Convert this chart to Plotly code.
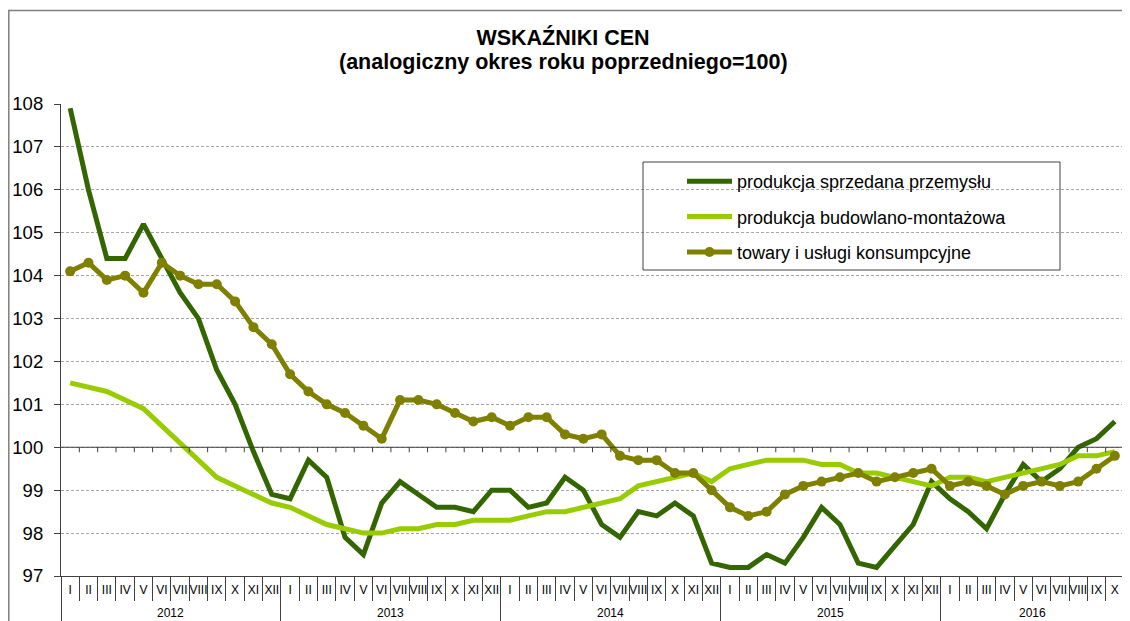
import plotly.graph_objects as go

years = ["2012", "2013", "2014", "2015", "2016"]
months_full = ["I", "II", "III", "IV", "V", "VI", "VII", "VIII", "IX", "X", "XI", "XII"]
months_2016 = ["I", "II", "III", "IV", "V", "VI", "VII", "VIII", "IX", "X"]

x_keys = []
x_month = []
year_counts = []
for y in years:
    ms = months_2016 if y == "2016" else months_full
    year_counts.append(len(ms))
    for m in ms:
        x_keys.append(y + " " + m)
        x_month.append(m)

przemysl = [
    107.9, 106.0, 104.4, 104.4, 105.2, 104.4, 103.6, 103.0, 101.8, 101.0, 99.9, 98.9,
    98.8, 99.7, 99.3, 97.9, 97.5, 98.7, 99.2, 98.9, 98.6, 98.6, 98.5, 99.0,
    99.0, 98.6, 98.7, 99.3, 99.0, 98.2, 97.9, 98.5, 98.4, 98.7, 98.4, 97.3,
    97.2, 97.2, 97.5, 97.3, 97.9, 98.6, 98.2, 97.3, 97.2, 97.7, 98.2, 99.2,
    98.8, 98.5, 98.1, 98.9, 99.6, 99.2, 99.5, 100.0, 100.2, 100.6,
]
budowlano = [
    101.5, 101.4, 101.3, 101.1, 100.9, 100.5, 100.1, 99.7, 99.3, 99.1, 98.9, 98.7,
    98.6, 98.4, 98.2, 98.1, 98.0, 98.0, 98.1, 98.1, 98.2, 98.2, 98.3, 98.3,
    98.3, 98.4, 98.5, 98.5, 98.6, 98.7, 98.8, 99.1, 99.2, 99.3, 99.4, 99.2,
    99.5, 99.6, 99.7, 99.7, 99.7, 99.6, 99.6, 99.4, 99.4, 99.3, 99.2, 99.1,
    99.3, 99.3, 99.2, 99.3, 99.4, 99.5, 99.6, 99.8, 99.8, 99.9,
]
konsumpcyjne = [
    104.1, 104.3, 103.9, 104.0, 103.6, 104.3, 104.0, 103.8, 103.8, 103.4, 102.8, 102.4,
    101.7, 101.3, 101.0, 100.8, 100.5, 100.2, 101.1, 101.1, 101.0, 100.8, 100.6, 100.7,
    100.5, 100.7, 100.7, 100.3, 100.2, 100.3, 99.8, 99.7, 99.7, 99.4, 99.4, 99.0,
    98.6, 98.4, 98.5, 98.9, 99.1, 99.2, 99.3, 99.4, 99.2, 99.3, 99.4, 99.5,
    99.1, 99.2, 99.1, 98.9, 99.1, 99.2, 99.1, 99.2, 99.5, 99.8,
]

names = ["produkcja sprzedana przemysłu", "produkcja budowlano-montażowa", "towary i usługi konsumpcyjne"]
y_ticks = list(range(97, 109))

W, H = 1130, 621
L, R, T, B = 53, 1116, 96, 568   # plot area in figure pixels


def px_x(p):
    return (p - L) / (R - L)


def px_y(p):
    return (B - p) / (B - T)


n = len(x_keys)

# year boundaries and centres (category index units), derived from month counts
bounds = [-0.5]
centres = []
start = 0
for c in year_counts:
    centres.append(start + (c - 1) / 2)
    start += c
    bounds.append(start - 0.5)

fig = go.Figure()
fig.add_trace(go.Scatter(x=x_keys, y=przemysl, name=names[0], mode="lines",
                         line=dict(color="#336600", width=5), legendgroup="a"))
fig.add_trace(go.Scatter(x=x_keys, y=budowlano, name=names[1], mode="lines",
                         line=dict(color="#99CC00", width=5), legendgroup="b"))
fig.add_trace(go.Scatter(x=x_keys, y=konsumpcyjne, name=names[2], mode="lines+markers",
                         line=dict(color="#808000", width=5),
                         marker=dict(color="#808000", size=10, symbol="circle"),
                         legendgroup="c"))
# invisible helper trace for the year-divider axis
fig.add_trace(go.Scatter(x=[bounds[0], bounds[-1]], y=[100, 100], xaxis="x2", mode="lines",
                         line=dict(width=0), showlegend=False, hoverinfo="skip"))

shapes = []
# outer frame
shapes.append(dict(type="rect", xref="paper", yref="paper",
                   x0=px_x(0.8), x1=px_x(1140), y0=px_y(640), y1=px_y(2.5),
                   line=dict(color="#7f7f7f", width=1.5), layer="below"))
# right plot border
shapes.append(dict(type="line", xref="paper", yref="paper", x0=1, x1=1, y0=0, y1=1,
                   line=dict(color="#808080", width=1)))
# 100 line
shapes.append(dict(type="line", xref="paper", yref="y", x0=0, x1=1, y0=100, y1=100,
                   line=dict(color="#404040", width=1.2)))
# small ticks along the 100 line at category boundaries
for i in range(n - 1):
    shapes.append(dict(type="line", xref="x2", yref="y", x0=i + 0.5, x1=i + 0.5,
                       ysizemode="pixel", yanchor=100, y0=0, y1=-5,
                       line=dict(color="#404040", width=1)))
# legend box
shapes.append(dict(type="rect", xref="paper", yref="paper",
                   x0=px_x(635), x1=px_x(1052), y0=px_y(262), y1=px_y(154),
                   line=dict(color="#404040", width=1)))

annotations = [
    dict(text="<b>(analogiczny okres roku poprzedniego=100)</b>", xref="paper", yref="paper",
         x=px_x(555), y=px_y(54), xanchor="center", yanchor="middle", showarrow=False,
         font=dict(size=21.5, color="black")),
]
for yr, cx in zip(years, centres):
    annotations.append(dict(text=yr, xref="x2", yref="paper", x=cx, y=0,
                            xanchor="center", yanchor="middle", yshift=-37,
                            showarrow=False, font=dict(size=12, color="black")))

fig.update_layout(
    width=W, height=H,
    margin=dict(l=L, r=W - R, t=T, b=H - B, autoexpand=False),
    paper_bgcolor="white", plot_bgcolor="white",
    font=dict(family="Liberation Sans, Arial, sans-serif", color="black"),
    title=dict(text="<b>WSKAŹNIKI CEN</b>",
               x=555 / W, xanchor="center", xref="container",
               y=1 - 29 / H, yanchor="middle", yref="container",
               font=dict(size=21.5, color="black"), automargin=False),
    showlegend=True,
    legend=dict(x=px_x(674), y=px_y(155), xanchor="left", yanchor="top",
                bgcolor="rgba(0,0,0,0)", borderwidth=0,
                font=dict(size=18, color="black"), itemwidth=45,
                traceorder="grouped", tracegroupgap=9),
    shapes=shapes,
    annotations=annotations,
    hovermode=False,
    xaxis=dict(type="category", categoryorder="array", categoryarray=x_keys,
               range=[-0.5, n - 0.5], tickmode="array", tickvals=x_keys, ticktext=x_month,
               ticks="outside", tickson="boundaries", ticklen=24,
               tickcolor="#404040", showline=True, linecolor="#404040", linewidth=1.2,
               showgrid=False, tickfont=dict(size=12, color="black"), tickangle=0,
               ticklabelstandoff=2, automargin=False),
    xaxis2=dict(overlaying="x", anchor="y", side="bottom", type="linear",
                range=[-0.5, n - 0.5], tickmode="array", tickvals=bounds,
                ticks="outside", ticklen=52, tickcolor="#404040", tickwidth=1,
                showticklabels=False, showgrid=False, zeroline=False, showline=False,
                automargin=False),
    yaxis=dict(range=[97, 108], tickvals=y_ticks, ticks="outside", ticklen=6,
               tickcolor="#404040", showline=True, linecolor="#404040", linewidth=1.2,
               showgrid=True, gridcolor="#a6a6a6", gridwidth=1, griddash="3px,2px",
               zeroline=False, tickfont=dict(size=18.5, color="black"),
               ticklabelstandoff=7, automargin=False),
)

fig.write_html("out.html")
